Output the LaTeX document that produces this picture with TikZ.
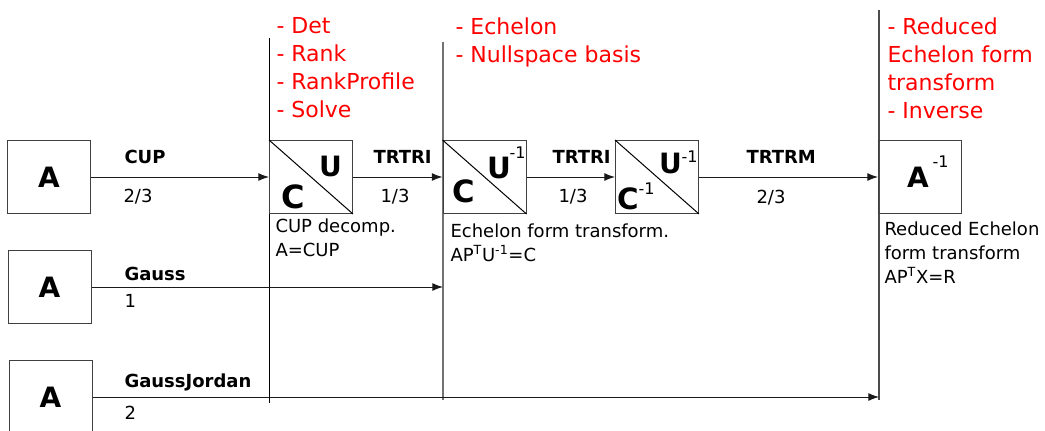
\documentclass[tikz,border=0pt]{standalone}
\usepackage{fontspec}
\setmainfont{DejaVu Sans}
\usetikzlibrary{arrows.meta}

\tikzset{every picture/.style={line width=0.75pt}}

\begin{document}
\begin{tikzpicture}[x=0.75pt,y=0.75pt,yscale=-1,xscale=1,
	mat/.style={draw=black!75, minimum width=62.25pt, minimum height=54.75pt, inner sep=0pt},
	matA/.style={mat, font=\fontsize{21}{21}\selectfont\bfseries},
	letter/.style={anchor=base west, inner sep=0pt, font=\fontsize{#1}{#1}\selectfont\bfseries},
	letter/.default=22,
	expo/.style={anchor=base west, inner sep=0pt, font=\fontsize{12}{12}\selectfont},
	op/.style={anchor=base west, inner sep=0pt, font=\fontsize{13.5}{16}\selectfont\bfseries},
	cost/.style={anchor=base west, inner sep=0pt, font=\fontsize{13.5}{16}\selectfont},
	note/.style={anchor=north west, inner sep=0pt, align=left, font=\fontsize{13.5}{18}\selectfont},
	feat/.style={anchor=north west, inner sep=0pt, align=left, text=red, font=\fontsize{16.5}{21}\selectfont},
	flow/.style={-{Latex[length=8pt,width=6pt]}, draw=black!90},
	stage/.style={line width=0.9pt}]
	\useasboundingbox (0,0) rectangle (1045,431);

	%Stage separators
	\coordinate (s1t) at (269.5,38);  \coordinate (s1b) at (269.5,403);
	\coordinate (s2t) at (443,42);    \coordinate (s2b) at (443,400);
	\coordinate (s3t) at (879,10);    \coordinate (s3b) at (879,400);
	\draw [stage, draw=black]    (s1t) -- (s1b) ;
	\draw [stage, draw=black!55] (s2t) -- (s2b) ;
	\draw [stage, draw=black!70] (s3t) -- (s3b) ;

	%Input matrices
	\node [matA] (a1) at (49,177) {A};
	\node [matA] (a2) at (49.5,287) {A};
	\node [matA] (a3) at (50.5,397) {A};

	%Decompositions
	\node [mat] (cup) at (311,177) {};
	\draw (cup.north west) -- (cup.south east) ;
	\node [letter=21] (cupU) at (318.5,176) {U};
	\node [letter=24] (cupC) at (280.5,208) {C};

	\node [mat] (ech) at (484.5,177) {};
	\draw (ech.north west) -- (ech.south east) ;
	\node [letter=22] (echU) at (486.5,178) {U};
	\node [expo] (echUe) at (509,158) {-1};
	\node [letter=23] (echC) at (451.5,202) {C};

	\node [mat] (tri) at (657,177) {};
	\draw (tri.north west) -- (tri.south east) ;
	\node [letter=21] (triU) at (658.5,173) {U};
	\node [expo] (triUe) at (681,162) {-1};
	\node [letter=22] (triC) at (616.5,209) {C};
	\node [expo] (triCe) at (638,195) {-1};

	\node [mat] (inv) at (920,177) {};
	\node [letter=21] (invA) at (906.5,187) {A};
	\node [expo] (invAe) at (932,167) {-1};

	%Connectors
	\draw [flow] (a1.east) -- (cup.west) ;
	\draw [flow] (cup.east) -- (ech.west) ;
	\draw [flow] (ech.east) -- (tri.west) ;
	\draw [flow] (tri.east) -- (inv.west) ;
	\draw [flow] (a2.east) -- (a2.east -| s2t) ;
	\draw [flow] (a3.east) -- (a3.east -| s3t) ;

	% Operation labels
	\node [op] (l1) at (124,163) {CUP};
	\node [cost] (c1) at (123,202) {2/3};
	\node [op] (l2) at (373,163) {TRTRI};
	\node [cost] (c2) at (380,202) {1/3};
	\node [op] (l3) at (552,164) {TRTRI};
	\node [cost] (c3) at (558,202) {1/3};
	\node [op] (l4) at (746,164) {TRTRM};
	\node [cost] (c4) at (756,204) {2/3};
	\node [op] (l5) at (124,280) {Gauss};
	\node [cost] (c5) at (124,307) {1};
	\node [op] (l6) at (124,387) {GaussJordan};
	\node [cost] (c6) at (124,419) {2};

	% Notes under the stages
	\node [note] (n1) at (275,218) {CUP decomp.\\A=CUP};
	\node [note] (n2) at (450,223) {Echelon form transform.\\AP\textsuperscript{T}U\textsuperscript{-1}=C};
	\node [note] (n3) at (884,221) {Reduced Echelon\\form transform\\AP\textsuperscript{T}X=R};

	% Features of each stage
	\node [feat] (f1) at (276,17) {- Det\\- Rank\\- RankProfile\\- Solve};
	\node [feat] (f2) at (455,17) {- Echelon\\- Nullspace basis};
	\node [feat] (f3) at (887,17) {- Reduced\\Echelon form\\transform\\- Inverse};

\end{tikzpicture}
\end{document}
